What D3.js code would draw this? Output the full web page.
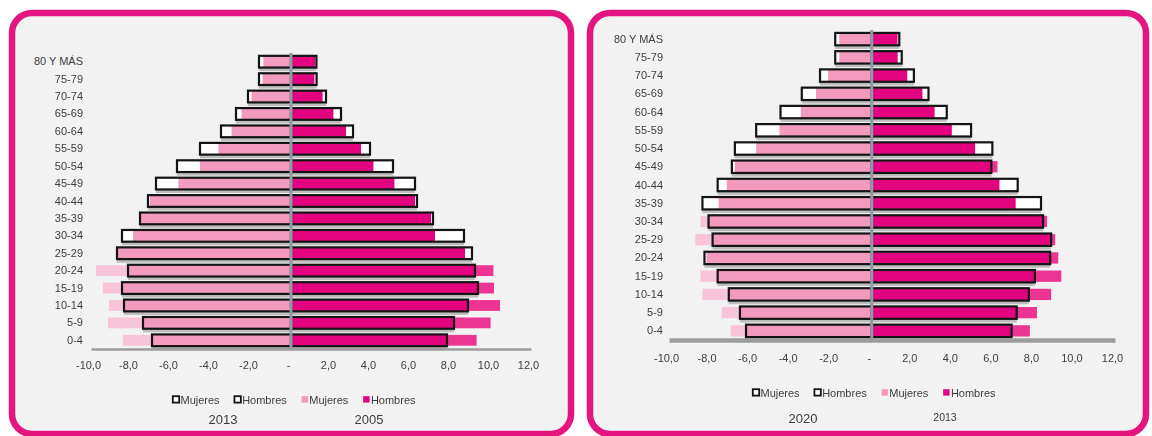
<!DOCTYPE html>
<html>
<head>
<meta charset="utf-8">
<script src="https://cdn.jsdelivr.net/npm/d3@7"></script>
<style>
  body { margin: 0; background: #ffffff; }
  svg { display: block; font-family: "Liberation Sans", Arial, sans-serif; }
</style>
</head>
<body>
<svg id="chart" width="1152" height="436"></svg>
<script>
// Age groups, youngest first (drawn bottom to top)
const ageGroups = ["0-4", "5-9", "10-14", "15-19", "20-24", "25-29", "30-34", "35-39",
  "40-44", "45-49", "50-54", "55-59", "60-64", "65-69", "70-74", "75-79", "80 Y MÁS"];

// Population share (%) by age group; women on the negative side
const mujeres2005 = [-8.4, -9.15, -9.1, -9.4, -9.75, -8.65, -7.9, -7.5, -7.05, -5.63, -4.55, -3.63, -2.97, -2.47, -1.97, -1.42, -1.38];
const hombres2005 = [9.28, 9.98, 10.45, 10.15, 10.12, 8.7, 7.2, 7.0, 6.2, 5.17, 4.12, 3.5, 2.75, 2.12, 1.58, 1.17, 1.2];
const mujeres2013 = [-6.95, -7.4, -8.35, -8.45, -8.15, -8.7, -8.45, -7.55, -7.15, -6.75, -5.7, -4.55, -3.5, -2.75, -2.15, -1.6, -1.6];
const hombres2013 = [7.8, 8.15, 8.85, 9.35, 9.2, 9.05, 8.65, 7.1, 6.3, 6.2, 5.1, 3.95, 3.1, 2.5, 1.75, 1.28, 1.27];
const mujeres2020 = [-6.2, -6.5, -7.05, -7.6, -8.25, -7.85, -8.05, -8.35, -7.6, -6.9, -6.75, -5.7, -4.5, -3.45, -2.55, -1.8, -1.8];
const hombres2020 = [6.9, 7.15, 7.75, 8.05, 8.8, 8.85, 8.45, 8.35, 7.2, 5.9, 5.95, 4.9, 3.7, 2.8, 2.08, 1.48, 1.36];

// Value-axis ticks and legend wording
const tickValues = [-10, -8, -6, -4, -2, 0, 2, 4, 6, 8, 10, 12];
const legendLabels = ["Mujeres", "Hombres", "Mujeres", "Hombres"];

const COLORS = {
  frame: "#e5157f",
  panel: "#f2f2f2",
  mujeres: "#f39bbf",
  mujeresOut: "#f8c4d9",
  hombres: "#e4037e",
  hombresOut: "#ec3592",
  outline: "#141414",
  shadow: "#9a9a9a",
  zero: "#8f9aa6",
  axis: "#9c9c9c",
  text: "#3d3d3d"
};

// Spanish number format: "-10,0", zero shown as "-"
const esLocale = d3.formatLocale({ decimal: ",", thousands: ".", grouping: [3], currency: ["", " €"], minus: "-" });
const fmt1 = esLocale.format(".1f");
const tickFormat = v => v === 0 ? "-" : fmt1(v);

const panels = [
  {
    frame: { x: 12, y: 13, w: 559, h: 421 },
    xRange: [91, 531], yRange: [349, 53], axisWidth: 2.5,
    labelPad: 8, tickPad: 12,
    outline: { m: mujeres2013, h: hombres2013 },
    filled: { m: mujeres2005, h: hombres2005 },
    legendX: 172, legendY: 404,
    years: [{ text: "2013", x: 223, y: 424, size: 13 }, { text: "2005", x: 369, y: 424, size: 13 }]
  },
  {
    frame: { x: 590, y: 13, w: 556, h: 421 },
    xRange: [669, 1115], yRange: [340, 30], axisWidth: 4.5,
    labelPad: 6, tickPad: 14.5,
    outline: { m: mujeres2020, h: hombres2020 },
    filled: { m: mujeres2013, h: hombres2013 },
    legendX: 752, legendY: 397,
    years: [{ text: "2020", x: 803, y: 423, size: 13 }, { text: "2013", x: 945, y: 421, size: 10.5 }]
  }
];

const svg = d3.select("#chart");

const defs = svg.append("defs");
defs.append("filter").attr("id", "soft")
  .append("feGaussianBlur").attr("stdDeviation", 0.6);

panels.forEach(p => drawPanel(p));

function drawPanel(p) {
  const g = svg.append("g");

  // Rounded magenta frame
  g.append("rect")
    .attr("x", p.frame.x).attr("y", p.frame.y)
    .attr("width", p.frame.w).attr("height", p.frame.h)
    .attr("rx", 20).attr("ry", 20)
    .attr("fill", COLORS.panel)
    .attr("stroke", COLORS.frame).attr("stroke-width", 6.5);

  const x = d3.scaleLinear().domain([-10, 12]).range(p.xRange);
  const y = d3.scaleBand().domain(ageGroups).range(p.yRange);
  const bw = y.bandwidth();
  const hOut = bw * 0.8;     // outlined bar (outer size)
  const hFill = bw * 0.62;   // filled bar
  const sw = 2.2;

  const rows = [];
  ["m", "h"].forEach(side => {
    ageGroups.forEach((grp, i) => {
      rows.push({ grp, side, out: p.outline[side][i], fill: p.filled[side][i] });
    });
  });

  const spanX = v => Math.min(x(0), x(v));
  const spanW = v => Math.abs(x(v) - x(0));
  const inner = d => Math.sign(d.fill) * Math.min(Math.abs(d.fill), Math.abs(d.out));
  const mid = d => y(d.grp) + bw / 2;

  const bars = g.append("g");

  // drop shadow under outlined bars
  bars.append("g").attr("filter", "url(#soft)")
    .selectAll("rect").data(rows).join("rect")
    .attr("x", d => spanX(d.out))
    .attr("width", d => spanW(d.out))
    .attr("y", d => mid(d) - hOut / 2 + 2.5)
    .attr("height", hOut)
    .attr("fill", COLORS.shadow).attr("opacity", 0.6);

  // filled bars, lighter tone where they stick out of the outlined bar
  bars.append("g").selectAll("rect").data(rows).join("rect")
    .attr("x", d => spanX(d.fill))
    .attr("width", d => spanW(d.fill))
    .attr("y", d => mid(d) - hFill / 2)
    .attr("height", hFill)
    .attr("fill", d => d.side === "m" ? COLORS.mujeresOut : COLORS.hombresOut);

  // white body of outlined bars
  bars.append("g").selectAll("rect").data(rows).join("rect")
    .attr("x", d => spanX(d.out))
    .attr("width", d => spanW(d.out))
    .attr("y", d => mid(d) - (hOut - sw) / 2)
    .attr("height", hOut - sw)
    .attr("fill", "#ffffff");

  // filled bars inside the outline
  bars.append("g").selectAll("rect").data(rows).join("rect")
    .attr("x", d => spanX(inner(d)))
    .attr("width", d => spanW(inner(d)))
    .attr("y", d => mid(d) - hFill / 2)
    .attr("height", hFill)
    .attr("fill", d => d.side === "m" ? COLORS.mujeres : COLORS.hombres);

  // black outlines
  bars.append("g").selectAll("rect").data(rows).join("rect")
    .attr("x", d => spanX(d.out))
    .attr("width", d => spanW(d.out))
    .attr("y", d => mid(d) - (hOut - sw) / 2)
    .attr("height", hOut - sw)
    .attr("fill", "none")
    .attr("stroke", COLORS.outline).attr("stroke-width", sw);

  // zero line
  g.append("line")
    .attr("x1", x(0)).attr("x2", x(0))
    .attr("y1", p.yRange[1]).attr("y2", p.yRange[0])
    .attr("stroke", COLORS.zero).attr("stroke-width", 3);

  // value axis
  const xAxis = g.append("g")
    .attr("transform", `translate(0,${p.yRange[0]})`)
    .call(d3.axisBottom(x).tickValues(tickValues).tickFormat(tickFormat)
      .tickSize(0).tickSizeOuter(0).tickPadding(p.tickPad));
  xAxis.select(".domain").attr("stroke", COLORS.axis).attr("stroke-width", p.axisWidth);
  xAxis.selectAll("text")
    .attr("dx", -3)
    .attr("font-size", 11).attr("font-family", "Liberation Sans, Arial, sans-serif")
    .attr("fill", COLORS.text);

  // age-group axis
  const yAxis = g.append("g")
    .attr("transform", `translate(${p.xRange[0]},0)`)
    .call(d3.axisLeft(y).tickSize(0).tickPadding(p.labelPad));
  yAxis.select(".domain").remove();
  yAxis.selectAll("text")
    .attr("font-size", 11).attr("font-family", "Liberation Sans, Arial, sans-serif")
    .attr("fill", COLORS.text);

  // legend
  const swatches = [
    { fill: "#ffffff", stroke: COLORS.outline },
    { fill: "#ffffff", stroke: COLORS.outline },
    { fill: COLORS.mujeres, stroke: "none" },
    { fill: COLORS.hombres, stroke: "none" }
  ];
  const leg = g.append("g");
  let lx = p.legendX;
  legendLabels.forEach((lab, i) => {
    const s = swatches[i];
    leg.append("rect")
      .attr("x", lx + 0.8).attr("y", p.legendY - 7.8)
      .attr("width", 6.4).attr("height", 6.4)
      .attr("fill", s.fill)
      .attr("stroke", s.stroke).attr("stroke-width", 1.8);
    const t = leg.append("text")
      .attr("x", lx + 8.5).attr("y", p.legendY)
      .attr("font-size", 11).attr("fill", COLORS.text)
      .text(lab);
    lx += 8.5 + t.node().getComputedTextLength() + 14;
  });

  // year captions
  p.years.forEach(yr => {
    g.append("text")
      .attr("x", yr.x).attr("y", yr.y)
      .attr("text-anchor", "middle")
      .attr("font-size", yr.size).attr("fill", COLORS.text)
      .text(yr.text);
  });
}
</script>
</body>
</html>
